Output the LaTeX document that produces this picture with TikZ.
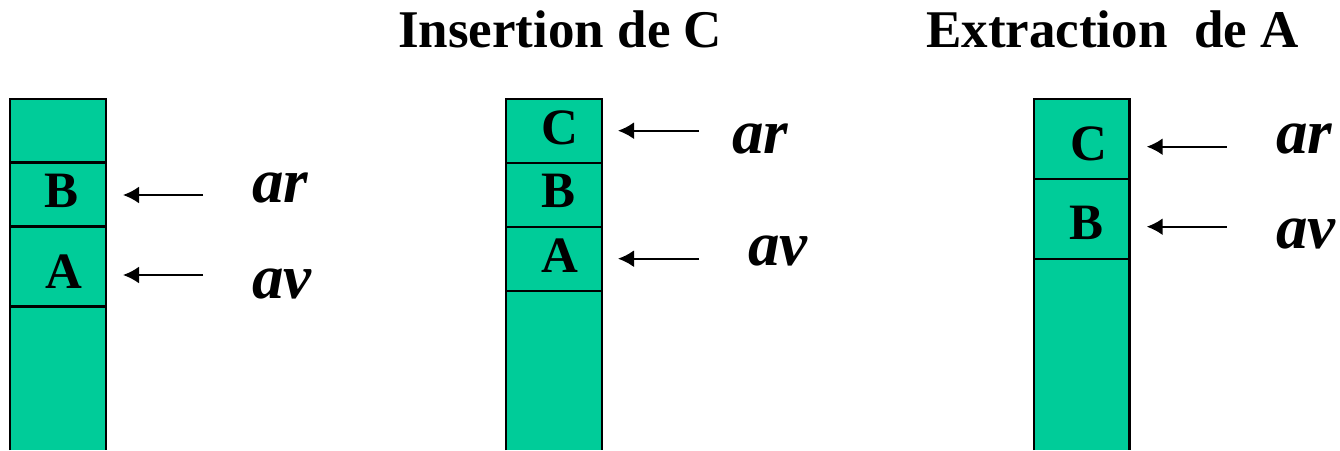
\documentclass[tikz,border=0pt]{standalone}
\usepackage{fontspec}
\setmainfont{Liberation Serif}
\usetikzlibrary{arrows.meta}
\definecolor{cellgreen}{RGB}{0,204,153}
\tikzset{
  cellfill/.style={fill=cellgreen, draw=none},
  celledge/.style={draw=black, line width=2.4pt},
  ptr/.style={draw=black, line width=2.2pt, -{Latex[length=16pt,width=17pt]}},
  title/.style={anchor=base west, inner sep=0pt, font=\fontsize{53}{60}\selectfont\bfseries},
  letter/.style={anchor=base, inner sep=0pt, font=\fontsize{51}{58}\selectfont\bfseries},
  lbl/.style={anchor=base west, inner sep=0pt, font=\fontsize{63}{70}\selectfont\bfseries\itshape}
}
\begin{document}
\begin{tikzpicture}[x=1pt,y=-1pt]
\useasboundingbox (0,0) rectangle (1340,450);
% titles
\node[title] (t2) at (398,47) {Insertion de C};
\node[title] (t3) at (926,47) {Extraction\ \ de A};

% ---- column 1
\path[cellfill] (10,99) rectangle (106,450);
\draw[celledge] (10,450) -- (10,99) -- (106,99) -- (106,450);
\draw[celledge] (10,162.5) -- (106,162.5);
\draw[celledge] (10,226.5) -- (106,226.5);
\draw[celledge] (10,306.5) -- (106,306.5);
\node[letter] (b1) at (62,207) {B};
\node[letter] (a1) at (64,288) {A};
\coordinate (ar1s) at (203,195); \coordinate (ar1e) at (123,195);
\coordinate (av1s) at (203,275); \coordinate (av1e) at (123,275);
\draw[ptr] (ar1s) -- (ar1e);
\draw[ptr] (av1s) -- (av1e);
\node[lbl] (lar1) at (252,202) {ar};
\node[lbl] (lav1) at (252,298) {av};

% ---- column 2
\path[cellfill] (506,99) rectangle (602,450);
\draw[celledge] (506,450) -- (506,99) -- (602,99) -- (602,450);
\draw[celledge] (506,162.7) -- (602,162.7);
\draw[celledge] (506,227) -- (602,227);
\draw[celledge] (506,291) -- (602,291);
\node[letter] (c2) at (560,144) {C};
\node[letter] (b2) at (558,207) {B};
\node[letter] (a2) at (560,272) {A};
\coordinate (ar2s) at (699,130.7); \coordinate (ar2e) at (618,130.7);
\coordinate (av2s) at (699,258.7); \coordinate (av2e) at (618,258.7);
\draw[ptr] (ar2s) -- (ar2e);
\draw[ptr] (av2s) -- (av2e);
\node[lbl] (lar2) at (732,153) {ar};
\node[lbl] (lav2) at (748,265) {av};

% ---- column 3
\path[cellfill] (1034,99) rectangle (1129.5,450);
\draw[celledge] (1034,450) -- (1034,99) -- (1129.5,99) -- (1129.5,450);
\draw[celledge] (1034,179) -- (1129.5,179);
\draw[celledge] (1034,258.7) -- (1129.5,258.7);
\node[letter] (c3) at (1089,160) {C};
\node[letter] (b3) at (1086,239) {B};
\coordinate (ar3s) at (1226.7,146.7); \coordinate (ar3e) at (1146.7,146.7);
\coordinate (av3s) at (1226.7,226.7); \coordinate (av3e) at (1146.7,226.7);
\draw[ptr] (ar3s) -- (ar3e);
\draw[ptr] (av3s) -- (av3e);
\node[lbl] (lar3) at (1276,153) {ar};
\node[lbl] (lav3) at (1276,248) {av};
\end{tikzpicture}
\end{document}
